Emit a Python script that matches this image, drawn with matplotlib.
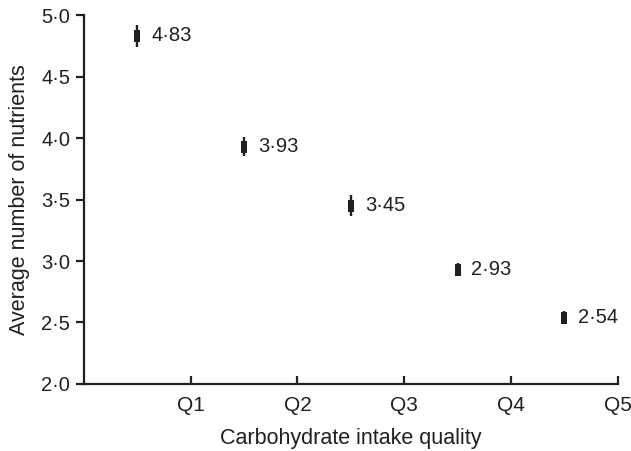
import matplotlib
matplotlib.use('Agg')
import matplotlib.pyplot as plt
from matplotlib.ticker import FuncFormatter

plt.rcParams['font.family'] = ['Liberation Sans', 'DejaVu Sans']

# data
quintiles = ['Q1', 'Q2', 'Q3', 'Q4', 'Q5']
x_pos = [0.5, 1.5, 2.5, 3.5, 4.5]
means = [4.83, 3.93, 3.45, 2.93, 2.54]
errors = [0.093, 0.079, 0.085, 0.055, 0.052]

ink = '#231f20'

fig = plt.figure(figsize=(6.31, 4.51), dpi=100)
ax = fig.add_axes([0.133, 0.1486, 0.846, 0.818])

# tall rectangle marker
rect = [(-0.3, -0.5), (0.3, -0.5), (0.3, 0.5), (-0.3, 0.5), (-0.3, -0.5)]
ax.errorbar(x_pos, means, yerr=errors, fmt='none', ecolor=ink,
            elinewidth=1.7, capsize=0, zorder=2)
ax.plot(x_pos, means, linestyle='none', marker=rect, markersize=8,
        color=ink, markeredgewidth=0, zorder=3)

for x, m in zip(x_pos, means):
    ax.annotate(f'{m:.2f}'.replace('.', '·'), (x, m), xytext=(10, 0),
                textcoords='offset points', va='center', ha='left',
                fontsize=14.5, color=ink)

ax.set_xlim(0, 5)
ax.set_ylim(2.0, 5.0)
ax.set_xticks([1, 2, 3, 4, 5])
ax.set_xticklabels(quintiles)
ax.set_yticks([2.0, 2.5, 3.0, 3.5, 4.0, 4.5, 5.0])
ax.yaxis.set_major_formatter(FuncFormatter(lambda v, p: f'{v:.1f}'.replace('.', '·')))

ax.spines['top'].set_visible(False)
ax.spines['right'].set_visible(False)
for s in ['left', 'bottom']:
    ax.spines[s].set_linewidth(1.6)
    ax.spines[s].set_color(ink)

ax.tick_params(axis='x', direction='in', length=6, width=1.6, labelsize=15,
               pad=9, colors=ink)
ax.tick_params(axis='y', direction='out', length=6, width=1.6, labelsize=14.5,
               pad=4, colors=ink)

ax.set_xlabel('Carbohydrate intake quality', fontsize=15.5, color=ink, labelpad=9)
ax.set_ylabel('Average number of nutrients', fontsize=15.5, color=ink, labelpad=8)

fig.savefig('out.png', dpi=100, facecolor='white')
